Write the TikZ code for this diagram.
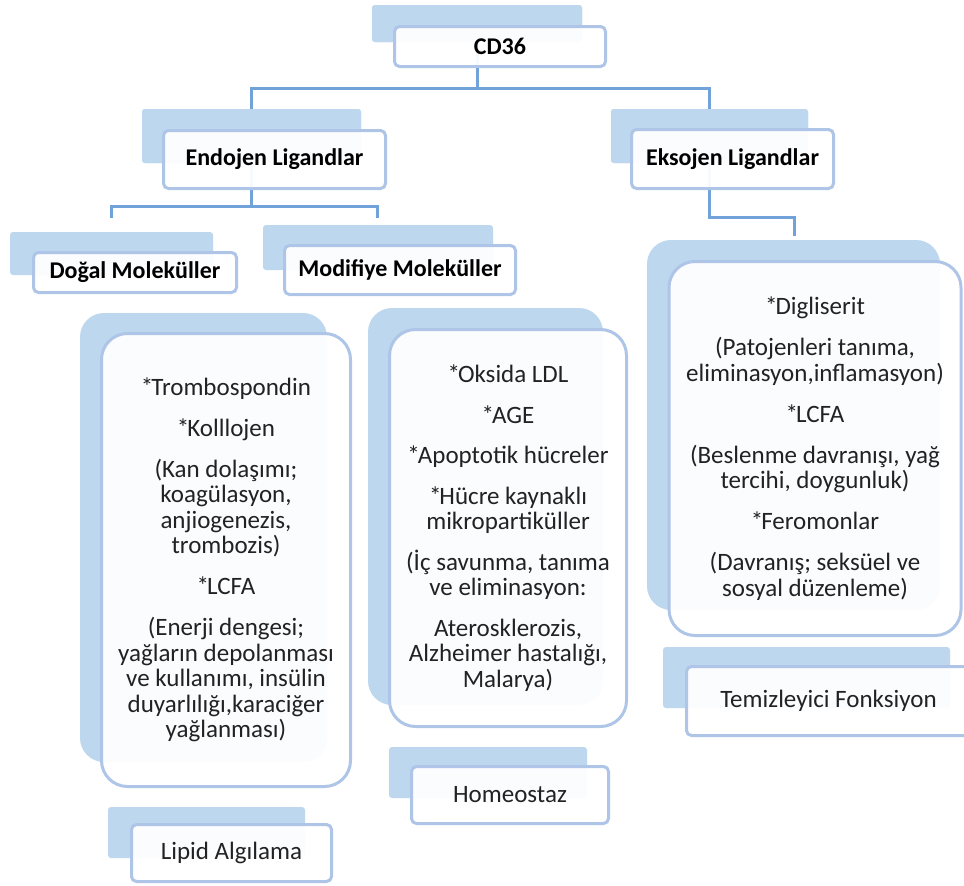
\documentclass[tikz,border=0pt]{standalone}
\usepackage{fontspec}
\setmainfont{Carlito}
\definecolor{bgblue}{HTML}{BDD7EE}
\definecolor{bordblue}{HTML}{AFC5E8}
\definecolor{lineblue}{HTML}{72A2DA}
\definecolor{textc}{HTML}{222222}
\newcommand\aster{*\kern-2pt}
\tikzset{
  bgbox/.style={draw=none, fill=bgblue, rounded corners=3pt, inner sep=0pt},
  bigbg/.style={bgbox, rounded corners=24pt},
  wbox/.style={draw=bordblue, line width=3pt, fill=white, fill opacity=0.95, text opacity=1,
    rounded corners=5pt, inner sep=0pt, align=center, text=textc,
    font=\fontsize{25}{25.5}\selectfont},
  bigw/.style={wbox, rounded corners=26pt},
  head/.style={wbox, text=black, font=\bfseries\fontsize{24}{26}\selectfont},
  conn/.style={draw=lineblue, line width=3pt},
}
\begin{document}
\begin{tikzpicture}[x=1pt,y=-1pt]
\useasboundingbox (0,0) rectangle (964,886);
\clip (0,0) rectangle (964,886);
\fill[white] (0,0) rectangle (964,886);

% junction coordinates
\coordinate (j1) at (476,88);
\coordinate (j2) at (251.5,206);
\coordinate (j3) at (709.5,217);
\coordinate (dogaltip) at (111,218);
\coordinate (modtip) at (377,218);
\coordinate (eksotip) at (794,236);

% background shapes
\node[bgbox, minimum width=210pt, minimum height=37pt] (cdbg) at (477,23.5) {};
\node[bgbox, minimum width=219pt, minimum height=54pt] (endobg) at (251.5,136) {};
\node[bgbox, minimum width=197pt, minimum height=54pt] (eksobg) at (709.5,136) {};

% connectors
\draw[conn] (cdbg.center) -- (cdbg.center |- j1) -| (endobg.center);
\draw[conn] (cdbg.center |- j1) -| (eksobg.center);
\draw[conn] (endobg.center) -- (j2) -| (dogaltip);
\draw[conn] (j2) -| (modtip);
\draw[conn] (eksobg.center) -- (j3) -| (eksotip);

% redraw backgrounds on top of connectors
\node[bgbox, minimum width=210pt, minimum height=37pt] at (cdbg) {};
\node[bgbox, minimum width=219pt, minimum height=54pt] at (endobg) {};
\node[bgbox, minimum width=197pt, minimum height=54pt] at (eksobg) {};
\node[bgbox, minimum width=203pt, minimum height=43pt] (dogalbg) at (111.5,253.5) {};
\node[bgbox, minimum width=230pt, minimum height=45pt] (modbg) at (378,247.5) {};
\node[bigbg, minimum width=247pt, minimum height=449pt] (b1bg) at (203.5,537.5) {};
\node[bigbg, minimum width=235pt, minimum height=397pt] (b2bg) at (485.5,506.5) {};
\node[bigbg, minimum width=293pt, minimum height=370pt] (b3bg) at (793.5,425) {};
\node[bgbox, minimum width=197pt, minimum height=51pt] (lipidbg) at (206.5,832.5) {};
\node[bgbox, minimum width=198pt, minimum height=51pt] (homeobg) at (488,772.5) {};
\node[bgbox, minimum width=287pt, minimum height=61pt] (temizbg) at (806.5,677.5) {};

% front boxes
\node[head, minimum width=211pt, minimum height=40pt] (cd) at (500,46.5) {CD36};
\node[head, minimum width=222pt, minimum height=58pt] (endo) at (274.5,159.5) {Endojen Ligandlar};
\node[head, minimum width=202pt, minimum height=59pt] (ekso) at (732.5,159) {Eksojen Ligandlar};
\node[head, minimum width=203pt, minimum height=40pt] (dogal) at (135,272.5) {Doğal Moleküller};
\node[head, minimum width=231pt, minimum height=49pt] (mod) at (400,270) {Modifiye Moleküller};

\node[bigw, minimum width=249pt, minimum height=453pt] (b1) at (226,560) {%
\aster Trombospondin\\[15.5pt]
\aster Kolllojen\\[15.5pt]
(Kan dolaşımı;\\
koagülasyon,\\
anjiogenezis,\\
trombozis)\\[15.5pt]
\aster LCFA\\[15.5pt]
(Enerji dengesi;\\
yağların depolanması\\
ve kullanımı, insülin\\
duyarlılığı,karaciğer\\
yağlanması)};

\node[bigw, minimum width=237pt, minimum height=397pt] (b2) at (508,528) {%
\aster Oksida LDL\\[15pt]
\aster AGE\\[15pt]
\aster Apoptotik hücreler\\[15pt]
\aster Hücre kaynaklı\\
mikropartiküller\\[15pt]
(İç savunma, tanıma\\
ve eliminasyon:\\[15pt]
Aterosklerozis,\\
Alzheimer hastalığı,\\
Malarya)};

\node[bigw, minimum width=292pt, minimum height=374pt] (b3) at (815,448.5) {%
\aster Digliserit\\[15.5pt]
(Patojenleri tanıma,\\
eliminasyon,inflamasyon)\\[15.5pt]
\aster LCFA\\[15.5pt]
(Beslenme davranışı, yağ\\
tercihi, doygunluk)\\[15.5pt]
\aster Feromonlar\\[15.5pt]
(Davranış; seksüel ve\\
sosyal düzenleme)};

\node[wbox, minimum width=200pt, minimum height=57pt] (lipid) at (231.5,853) {Lipid Algılama};
\node[wbox, minimum width=197pt, minimum height=57pt] (homeo) at (510,795) {Homeostaz};
\node[wbox, minimum width=284pt, minimum height=69pt] (temiz) at (828.5,701) {Temizleyici Fonksiyon};
\end{tikzpicture}
\end{document}
